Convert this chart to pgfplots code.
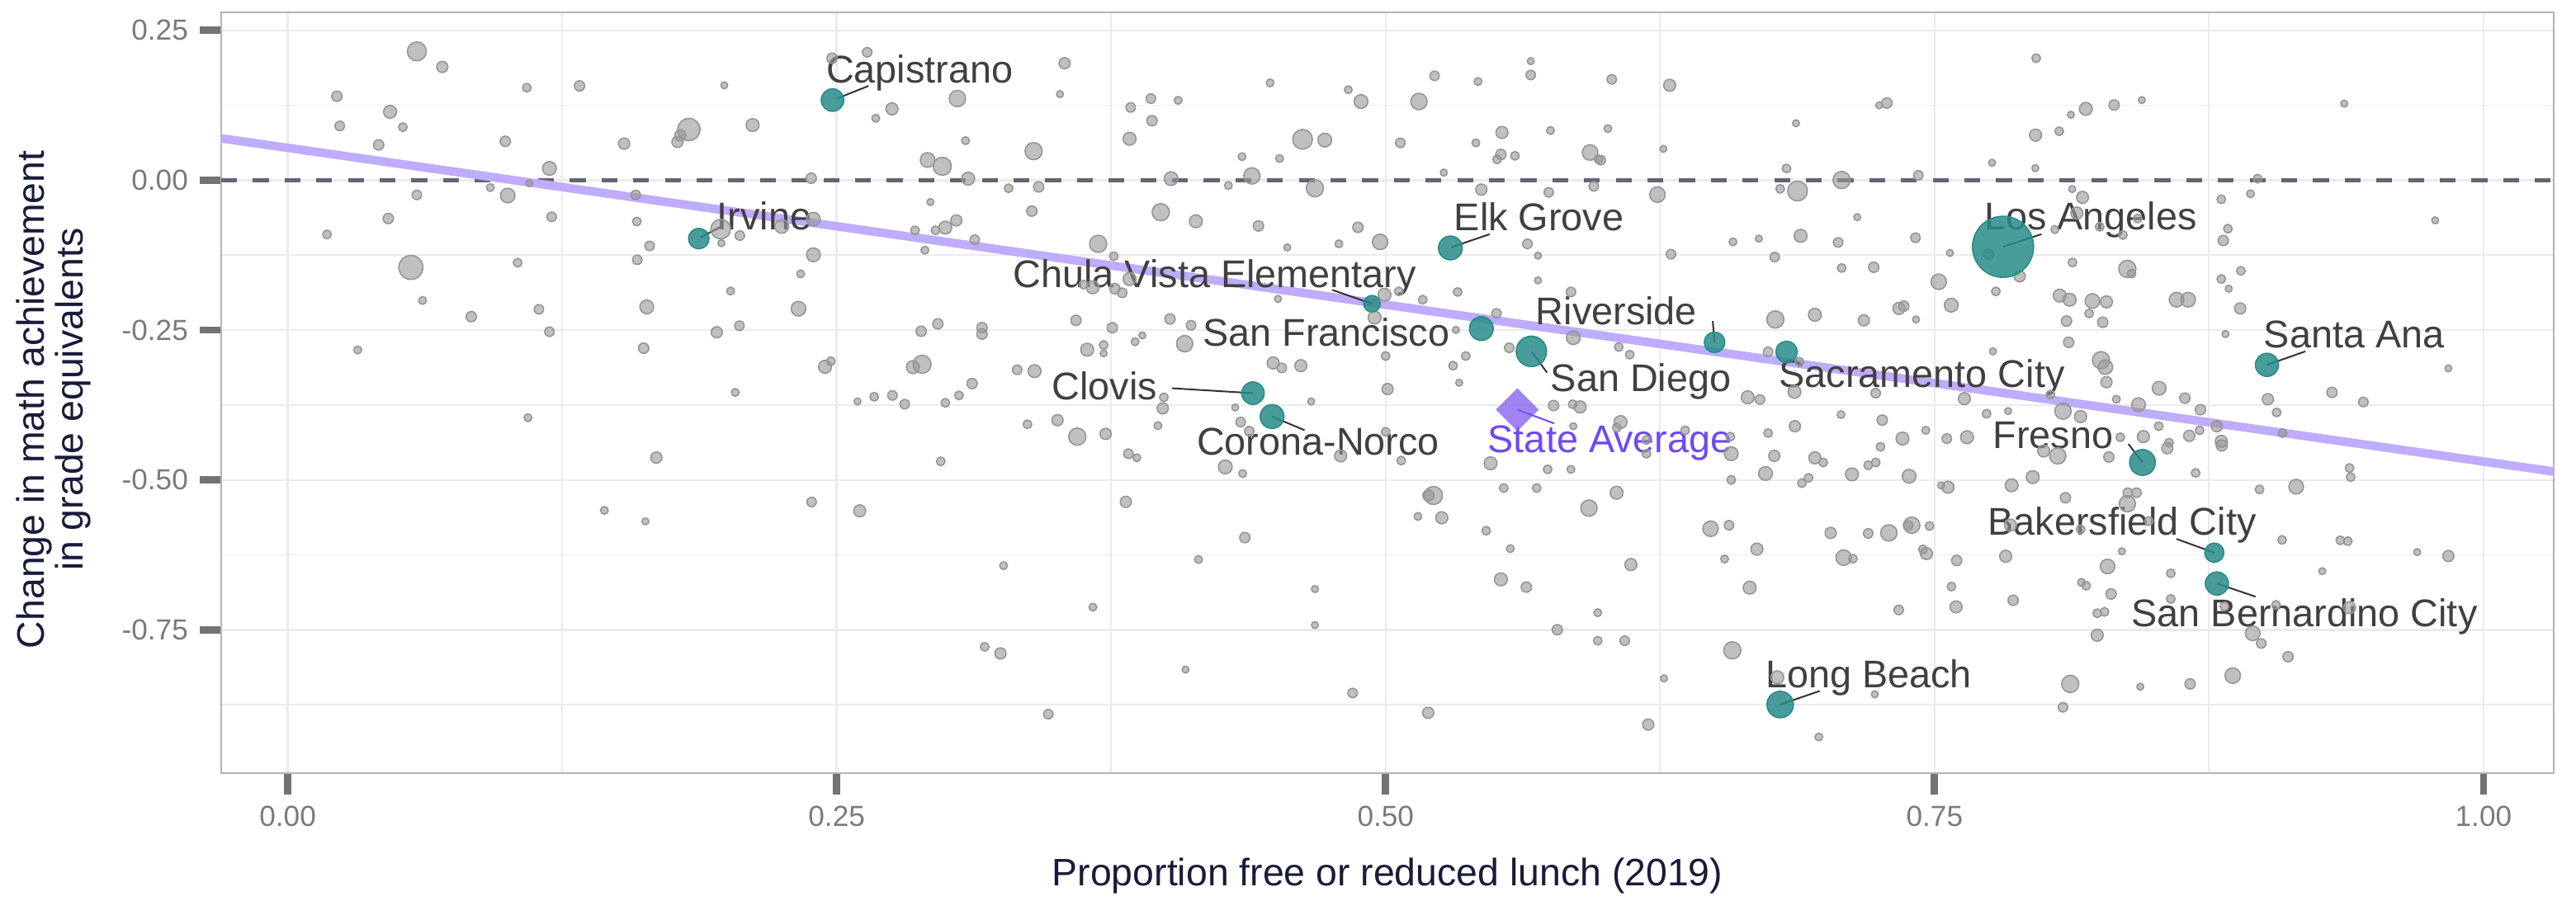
\documentclass[border=0pt]{standalone}
\usepackage{fontspec}
\setmainfont{Liberation Sans}
\usepackage{pgfplots}
\usepackage{pgfplotstable}
\pgfplotsset{compat=1.18}
\usetikzlibrary{calc}
\definecolor{ptgrey}{RGB}{150,150,150}
\definecolor{tealpt}{RGB}{40,140,136}
\definecolor{regline}{RGB}{190,172,252}
\definecolor{zeroline}{RGB}{100,100,118}
\definecolor{titlecol}{RGB}{26,26,58}
\definecolor{tickcol}{RGB}{122,122,122}
\definecolor{tickmark}{RGB}{115,115,115}
\definecolor{gridcol}{RGB}{235,235,235}
\definecolor{framecol}{RGB}{180,180,180}
\definecolor{lblcol}{RGB}{64,64,64}
\definecolor{statecol}{RGB}{112,72,245}
\definecolor{diamcol}{RGB}{125,85,240}
\definecolor{leadcol}{RGB}{50,50,50}
\tikzset{lbl/.style={font=\fontsize{11.7}{13}\selectfont, text=lblcol, inner sep=0pt, anchor=base}}

\pgfplotstableread{
x y r
0.0588 0.2149 2.2
0.0704 0.1890 1.3
0.1089 0.1544 1.0
0.1329 0.1573 1.2
0.1988 0.1583 0.8
0.0224 0.1401 1.2
0.0466 0.1141 1.5
0.0237 0.0905 1.1
0.0524 0.0885 1.0
0.0414 0.0590 1.2
0.0991 0.0649 1.2
0.1532 0.0610 1.3
0.1827 0.0846 2.6
0.1788 0.0748 1.3
0.1775 0.0640 1.3
0.2117 0.0920 1.5
0.1192 0.0197 1.6
0.2384 0.0034 1.2
0.0588 -0.0246 1.1
0.0923 -0.0123 0.9
0.1002 -0.0256 1.7
0.1100 -0.0049 0.8
0.1585 -0.0246 1.1
0.0458 -0.0639 1.2
0.1202 -0.0610 1.1
0.1590 -0.0688 1.0
0.0179 -0.0904 1.0
0.1972 -0.0816 2.3
0.2059 -0.0924 1.1
0.1975 -0.1050 0.8
0.2250 -0.0770 1.6
0.2394 -0.0650 1.6
0.1648 -0.1096 1.1
0.2394 -0.1244 1.6
0.0561 -0.1455 2.8
0.1047 -0.1376 1.0
0.1592 -0.1327 1.1
0.2336 -0.1563 0.9
0.2017 -0.1848 0.9
0.0614 -0.2006 0.9
0.1635 -0.2114 1.6
0.2326 -0.2143 1.7
0.1144 -0.2153 1.1
0.0836 -0.2276 1.2
0.1192 -0.2527 1.1
0.1954 -0.2537 1.3
0.2057 -0.2428 1.1
0.1621 -0.2802 1.2
0.0319 -0.2832 0.9
0.2447 -0.3112 1.5
0.2473 -0.3020 1.0
0.2038 -0.3540 0.9
0.1094 -0.3962 0.9
0.1679 -0.4627 1.3
0.1442 -0.5507 0.9
0.1629 -0.5691 0.8
0.2386 -0.5367 1.1
0.2639 0.2134 1.1
0.2479 0.2035 1.2
0.3538 0.1952 1.3
0.3050 0.1362 1.9
0.2752 0.1190 1.4
0.2678 0.1033 0.9
0.3517 0.1436 0.8
0.3839 0.1214 1.1
0.3931 0.1362 1.1
0.4055 0.1332 0.9
0.3936 0.0993 1.2
0.4474 0.1623 0.9
0.4830 0.1510 0.9
0.4888 0.1313 1.6
0.3087 0.0660 0.9
0.3397 0.0485 2.0
0.2914 0.0338 1.7
0.2981 0.0233 2.1
0.3099 0.0026 1.5
0.3283 -0.0134 1.0
0.3420 -0.0111 1.2
0.3834 0.0692 1.5
0.4023 0.0026 1.6
0.4346 0.0393 0.9
0.4391 0.0072 1.9
0.4517 0.0361 0.9
0.4622 0.0682 2.3
0.4723 0.0669 1.6
0.4284 -0.0088 0.9
0.4678 -0.0134 2.0
0.5067 0.0623 1.1
0.2927 -0.0364 0.8
0.3389 -0.0515 1.2
0.3045 -0.0670 1.3
0.2995 -0.0790 1.5
0.2950 -0.0836 1.0
0.2857 -0.0836 1.0
0.3129 -0.0992 1.1
0.2902 -0.1167 0.9
0.3976 -0.0533 2.0
0.4136 -0.0685 1.5
0.4421 -0.0763 1.2
0.4874 -0.0786 1.2
0.4787 -0.1061 0.9
0.4552 -0.1121 0.8
0.4975 -0.1029 1.8
0.3691 -0.1061 2.0
0.3762 -0.1268 1.0
0.3834 -0.1648 1.5
0.3624 -0.1740 1.0
0.3666 -0.1786 1.5
0.3767 -0.1809 1.2
0.3800 -0.1878 1.1
0.4510 -0.1979 0.8
0.4995 -0.1910 1.5
0.4950 -0.2290 1.5
0.5060 -0.1855 1.0
0.3590 -0.2337 1.2
0.3755 -0.2460 1.2
0.4018 -0.2314 1.2
0.4114 -0.2420 1.1
0.2961 -0.2396 1.2
0.2885 -0.2520 1.2
0.3162 -0.2460 1.2
0.3162 -0.2566 1.2
0.3892 -0.2589 0.8
0.3859 -0.2695 0.9
0.3716 -0.2749 1.0
0.3716 -0.2887 0.8
0.3641 -0.2827 1.5
0.4085 -0.2727 1.9
0.5000 -0.2933 1.0
0.2889 -0.3071 2.1
0.2847 -0.3117 1.5
0.3322 -0.3162 1.1
0.3401 -0.3185 1.5
0.3117 -0.3392 1.2
0.3057 -0.3590 1.0
0.2995 -0.3713 1.0
0.2810 -0.3736 1.1
0.2754 -0.3590 1.1
0.2671 -0.3612 1.0
0.2595 -0.3690 0.8
0.4488 -0.3048 1.4
0.4527 -0.3130 1.1
0.4614 -0.3094 1.4
0.5009 -0.3484 1.3
0.3990 -0.3621 1.0
0.3985 -0.3805 1.3
0.4315 -0.3791 0.8
0.4661 -0.3690 0.8
0.4340 -0.4034 1.1
0.4379 -0.4186 1.1
0.3506 -0.4002 1.3
0.3369 -0.4071 1.0
0.3963 -0.4094 0.9
0.3596 -0.4277 2.0
0.3725 -0.4231 1.3
0.5000 -0.4195 1.0
0.2974 -0.4690 1.0
0.3829 -0.4562 1.1
0.3867 -0.4630 0.9
0.4270 -0.4782 1.6
0.4349 -0.4892 0.9
0.4795 -0.4598 1.4
0.5071 -0.4676 1.0
0.2605 -0.5516 1.4
0.3817 -0.5365 1.3
0.4359 -0.5961 1.2
0.3260 -0.6429 0.9
0.4148 -0.6328 0.9
0.4678 -0.6820 0.8
0.3667 -0.7122 0.9
0.4678 -0.7420 0.8
0.3174 -0.7783 1.0
0.3246 -0.7893 1.3
0.4089 -0.8163 0.8
0.4850 -0.8553 1.1
0.3464 -0.8907 1.1
0.5152 0.1313 1.9
0.5223 0.1741 1.1
0.5421 0.1647 0.9
0.5661 0.1986 0.8
0.5661 0.1755 1.1
0.6030 0.1682 1.1
0.6294 0.1583 1.4
0.7283 0.1288 1.2
0.7248 0.1249 0.8
0.6869 0.0950 0.8
0.5530 0.0797 1.4
0.5411 0.0623 0.9
0.5525 0.0430 1.2
0.5508 0.0347 1.0
0.5589 0.0407 1.0
0.5751 0.0829 0.9
0.5931 0.0462 1.8
0.5980 0.0334 1.1
0.5970 0.0350 1.0
0.6012 0.0861 0.9
0.6265 0.0522 0.8
0.5265 0.0127 0.8
0.5436 -0.0157 1.3
0.5743 -0.0203 1.1
0.5948 -0.0102 1.1
0.6238 -0.0240 1.8
0.6826 0.0196 1.0
0.6797 -0.0143 1.0
0.6876 -0.0180 2.3
0.7077 0.0003 2.0
0.7426 0.0081 1.1
0.5646 -0.1061 1.1
0.5694 -0.1258 0.8
0.5694 -0.1671 0.8
0.5328 -0.1864 1.0
0.5169 -0.1993 1.0
0.6300 -0.1235 1.1
0.6582 -0.1029 0.9
0.6700 -0.0974 0.8
0.6890 -0.0928 1.5
0.6772 -0.1281 1.1
0.7061 -0.1038 1.1
0.7148 -0.0616 0.8
0.7413 -0.0960 1.1
0.7077 -0.1465 1.0
0.7223 -0.1451 1.2
0.7570 -0.1213 0.8
0.7519 -0.1694 1.8
0.7576 -0.2084 1.6
0.7338 -0.2139 1.4
0.7360 -0.2100 1.2
0.7416 -0.2323 0.8
0.7178 -0.2337 1.3
0.6955 -0.2245 1.5
0.6775 -0.2323 2.0
0.5844 -0.1864 1.1
0.5505 -0.2222 1.1
0.5320 -0.2497 0.8
0.5855 -0.2626 1.6
0.6062 -0.2782 1.0
0.6112 -0.2910 1.0
0.5563 -0.2795 1.1
0.5365 -0.2933 1.0
0.5307 -0.3094 1.0
0.5335 -0.3378 0.8
0.6742 -0.2864 1.1
0.6884 -0.3025 1.0
0.6649 -0.3621 1.5
0.6705 -0.3658 1.1
0.6862 -0.3530 1.5
0.7232 -0.3552 1.1
0.7636 -0.3644 1.4
0.7074 -0.3910 0.9
0.7262 -0.4002 1.2
0.7460 -0.4172 0.9
0.7354 -0.4310 1.5
0.7556 -0.4310 1.1
0.7648 -0.4287 1.5
0.6864 -0.4103 1.3
0.6742 -0.4218 1.0
0.5765 -0.3759 1.2
0.5852 -0.3736 1.0
0.5886 -0.3782 1.4
0.6070 -0.4034 1.5
0.5855 -0.4103 0.8
0.6053 -0.4126 1.0
0.6364 -0.4172 1.0
0.6570 -0.4277 1.0
0.6188 -0.4333 1.0
0.5478 -0.4722 1.5
0.5738 -0.4823 1.0
0.5844 -0.4823 0.9
0.6188 -0.4562 1.0
0.6574 -0.4562 1.6
0.6770 -0.4598 1.3
0.6955 -0.4631 1.4
0.6993 -0.4708 1.0
0.7124 -0.4906 1.5
0.7198 -0.4754 1.0
0.7232 -0.4708 1.0
0.7254 -0.4447 1.0
0.6730 -0.4892 1.6
0.6574 -0.4998 1.0
0.6896 -0.5053 1.0
0.6926 -0.4965 1.0
0.7384 -0.4938 1.6
0.7561 -0.5121 1.4
0.7530 -0.5090 0.8
0.5218 -0.5259 2.1
0.5195 -0.5259 1.3
0.5147 -0.5608 0.9
0.5256 -0.5631 1.4
0.5538 -0.5135 1.0
0.5688 -0.5135 1.0
0.6052 -0.5213 1.5
0.5926 -0.5470 1.9
0.5458 -0.5846 1.0
0.5568 -0.6145 0.9
0.6117 -0.6411 1.4
0.5525 -0.6658 1.5
0.5641 -0.6787 1.2
0.5966 -0.7214 0.9
0.5782 -0.7498 1.2
0.5966 -0.7682 1.0
0.6089 -0.7682 1.1
0.6480 -0.5814 1.8
0.6564 -0.5755 1.1
0.6691 -0.6154 1.4
0.6544 -0.6319 0.9
0.6658 -0.6796 1.5
0.7027 -0.5883 1.3
0.7086 -0.6296 1.8
0.7128 -0.6314 1.0
0.7198 -0.5892 1.1
0.7292 -0.5883 1.9
0.7396 -0.5755 1.9
0.7380 -0.5760 1.1
0.7477 -0.5768 1.0
0.7447 -0.6158 1.0
0.7463 -0.6227 1.4
0.7601 -0.6342 1.2
0.7577 -0.6778 1.0
0.7598 -0.7117 1.4
0.7337 -0.7168 1.1
0.6579 -0.7842 2.0
0.6268 -0.8310 0.8
0.6784 -0.8292 1.5
0.7228 -0.8576 0.8
0.5194 -0.8884 1.3
0.6196 -0.9081 1.3
0.6973 -0.9287 0.9
0.7963 0.2036 1.0
0.8189 0.1190 1.5
0.8318 0.1254 1.2
0.8444 0.1337 0.8
0.8121 0.1092 0.8
0.9366 0.1278 0.8
0.7960 0.0751 1.4
0.8068 0.0816 1.0
0.7762 0.0292 0.8
0.7959 0.0201 0.8
0.8127 -0.0148 0.8
0.8174 -0.0286 1.4
0.8971 0.0026 1.0
0.8939 -0.0226 0.9
0.8806 -0.0318 1.0
0.8836 -0.0809 1.0
0.8815 -0.1006 1.2
0.9780 -0.0670 0.8
0.8048 -0.0823 0.9
0.8252 -0.0777 1.0
0.8148 -0.0547 1.4
0.8425 -0.0639 1.0
0.8358 -0.0914 1.0
0.7746 -0.1235 1.2
0.7888 -0.1602 1.3
0.7779 -0.1855 1.0
0.8128 -0.1373 1.0
0.8378 -0.1479 2.0
0.8397 -0.1557 1.0
0.8070 -0.1924 1.5
0.8115 -0.1993 1.5
0.8219 -0.2015 1.7
0.8283 -0.2029 1.4
0.8204 -0.2222 1.0
0.8101 -0.2350 1.2
0.8266 -0.2369 1.2
0.8602 -0.1993 1.7
0.8655 -0.1993 1.7
0.8806 -0.1648 1.0
0.8840 -0.1809 0.8
0.8895 -0.1511 1.0
0.8892 -0.2139 1.3
0.8825 -0.2566 0.8
0.8111 -0.2704 1.2
0.7766 -0.2855 0.8
0.8258 -0.3002 2.0
0.8278 -0.3117 1.7
0.8283 -0.3369 1.3
0.8028 -0.3575 1.0
0.8523 -0.3470 1.6
0.8640 -0.3635 1.2
0.8711 -0.3828 1.2
0.8328 -0.3653 0.9
0.8429 -0.3745 1.6
0.9018 -0.3653 1.3
0.9058 -0.3874 1.0
0.9085 -0.4218 1.0
0.9310 -0.3540 1.2
0.9453 -0.3699 1.1
0.9840 -0.3139 0.8
0.8085 -0.3851 1.9
0.8165 -0.3943 1.4
0.7737 -0.3896 1.0
0.7835 -0.3851 0.8
0.8521 -0.4103 1.0
0.8660 -0.4264 1.3
0.8707 -0.4172 1.0
0.8806 -0.4356 1.4
0.8786 -0.4103 1.3
0.8568 -0.4378 1.0
0.8451 -0.4277 1.4
0.8346 -0.4287 1.0
0.8061 -0.4598 1.9
0.7997 -0.4516 1.4
0.8294 -0.4617 1.2
0.8560 -0.4470 1.3
0.8808 -0.4424 1.3
0.8689 -0.4883 1.0
0.9390 -0.4800 1.0
0.9395 -0.4952 1.0
0.9147 -0.5112 1.7
0.8980 -0.5158 1.0
0.7851 -0.5089 1.5
0.7947 -0.4952 1.5
0.8096 -0.5296 1.2
0.8380 -0.5213 1.1
0.8420 -0.5213 1.1
0.8378 -0.5397 1.9
0.8476 -0.5686 1.0
0.8165 -0.5823 1.0
0.7846 -0.5755 1.4
0.7824 -0.6273 1.4
0.8353 -0.6190 0.8
0.8288 -0.6443 1.7
0.8576 -0.6557 1.0
0.8169 -0.6709 0.9
0.8190 -0.6764 1.0
0.8304 -0.6902 1.2
0.7858 -0.7007 1.2
0.8576 -0.6984 1.0
0.8241 -0.7223 1.0
0.8274 -0.7200 1.0
0.9083 -0.6000 1.0
0.9348 -0.6007 1.0
0.9382 -0.6021 1.0
0.9266 -0.6521 0.8
0.9698 -0.6204 0.8
0.9840 -0.6268 1.3
0.8820 -0.7108 1.0
0.9055 -0.7085 1.0
0.9390 -0.7130 1.4
0.8949 -0.7558 1.7
0.8988 -0.7727 1.1
0.9110 -0.7948 1.2
0.8241 -0.7590 1.4
0.8858 -0.8264 1.8
0.8664 -0.8402 1.2
0.8437 -0.8448 0.8
0.8118 -0.8402 2.0
0.8085 -0.8792 1.1
}\greypts

\pgfplotstableread{
x y r
0.2481 0.1337 3.4
0.1872 -0.0973 3.1
0.5295 -0.1130 3.6
0.4938 -0.2060 2.5
0.5436 -0.2474 3.6
0.5664 -0.2855 4.6
0.6498 -0.2704 3.1
0.6826 -0.2864 3.25
0.4396 -0.3552 3.4
0.4483 -0.3942 3.6
0.7812 -0.1111 9.25
0.9014 -0.3080 3.5
0.8447 -0.4708 3.9
0.8774 -0.6213 2.9
0.8786 -0.6727 3.5
0.6797 -0.8746 4.0
}\tealpts

\begin{document}
\begin{tikzpicture}
\begin{axis}[
  name=ax,
  scale only axis,
  width=706.5pt, height=230.5pt,
  xmin=-0.0303, xmax=1.032, ymin=-0.989, ymax=0.280,
  xtick={0,0.25,0.5,0.75,1},
  xticklabels={0.00,0.25,0.50,0.75,1.00},
  ytick={-0.75,-0.5,-0.25,0,0.25},
  yticklabels={-0.75,-0.50,-0.25,0.00,0.25},
  minor xtick={0.125,0.375,0.625,0.875},
  minor ytick={-0.875,-0.625,-0.375,-0.125,0.125},
  grid=both,
  major grid style={gridcol, line width=0.6pt},
  minor grid style={gridcol, line width=0.45pt},
  axis line style={framecol, line width=0.5pt},
  tick align=outside,
  xtick pos=bottom, ytick pos=left,
  major tick length=6.5pt, minor tick length=0pt,
  major tick style={tickmark, line width=2.2pt},
  tick label style={font=\fontsize{8.8}{10}\selectfont, text=tickcol},
  xlabel={Proportion free or reduced lunch (2019)},
  ylabel={Change in math achievement\\in grade equivalents},
  xlabel style={at={(rel axis cs:0.5,0)}, anchor=base, yshift=-34pt,
    font=\fontsize{11.6}{13}\selectfont, text=titlecol},
  ylabel style={at={(rel axis cs:-0.0718,0.491)}, anchor=center, align=center,
    font=\fontsize{11.6}{10.6}\selectfont, text=titlecol},
]
% zero reference line
\addplot[zeroline, line width=1.1pt, dash pattern=on 4.8pt off 4.8pt] coordinates {(-0.0303,0) (1.032,0)};
% regression line
\addplot[regline, line width=2.6pt] coordinates {(-0.0303,0.0698) (1.032,-0.486)};
% grey districts
\addplot[ptgrey, scatter, only marks, mark=*,
  mark options={draw=none, fill=ptgrey, fill opacity=0.6},
  scatter/use mapped color={draw=none, fill=ptgrey, fill opacity=0.6},
  visualization depends on={1.3*\thisrow{r} \as \rr},
  scatter/@pre marker code/.append style={/tikz/mark size=\rr pt, /tikz/draw opacity=0}]
  table[x=x, y=y] {\greypts};
% highlighted districts
\addplot[tealpt, scatter, only marks, mark=*,
  mark options={draw=none, fill=tealpt, fill opacity=0.85},
  scatter/use mapped color={draw=none, fill=tealpt, fill opacity=0.85},
  visualization depends on={\thisrow{r} \as \rr},
  scatter/@pre marker code/.append style={/tikz/mark size=\rr pt, /tikz/draw opacity=0}]
  table[x=x, y=y] {\tealpts};
% state average
\addplot[diamcol, only marks, mark=square*, mark size=4.6pt,
  mark options={rotate=45, draw opacity=0, fill=diamcol, fill opacity=0.72}]
  coordinates {(0.560,-0.3828)};
% leader lines
\addplot[leadcol, line width=0.5pt] coordinates {(0.2500,0.1360) (0.2645,0.1573)};
\addplot[leadcol, line width=0.5pt] coordinates {(0.1880,-0.0950) (0.1972,-0.0777)};
\addplot[leadcol, line width=0.5pt] coordinates {(0.5298,-0.1120) (0.5474,-0.0900)};
\addplot[leadcol, line width=0.5pt] coordinates {(0.4938,-0.2060) (0.4757,-0.1830)};
\addplot[leadcol, line width=0.5pt] coordinates {(0.5664,-0.2855) (0.5735,-0.3208)};
\addplot[leadcol, line width=0.5pt] coordinates {(0.6498,-0.2704) (0.6490,-0.2350)};
\addplot[leadcol, line width=0.5pt] coordinates {(0.4396,-0.3552) (0.4027,-0.3470)};
\addplot[leadcol, line width=0.5pt] coordinates {(0.4483,-0.3942) (0.4631,-0.4170)};
\addplot[leadcol, line width=0.5pt] coordinates {(0.7812,-0.1111) (0.7987,-0.0900)};
\addplot[leadcol, line width=0.5pt] coordinates {(0.9014,-0.3080) (0.9189,-0.2855)};
\addplot[leadcol, line width=0.5pt] coordinates {(0.8447,-0.4708) (0.8383,-0.4400)};
\addplot[leadcol, line width=0.5pt] coordinates {(0.8774,-0.6213) (0.8602,-0.5984)};
\addplot[leadcol, line width=0.5pt] coordinates {(0.8786,-0.6727) (0.8962,-0.6947)};
\addplot[leadcol, line width=0.5pt] coordinates {(0.6797,-0.8746) (0.6977,-0.8520)};
\addplot[statecol, line width=0.5pt] coordinates {(0.5600,-0.3828) (0.5768,-0.4057)};
% labels
\node[lbl] at (axis cs:0.2878,0.1618) {Capistrano};
\node[lbl] at (axis cs:0.2170,-0.0826) {Irvine};
\node[lbl] at (axis cs:0.5699,-0.0845) {Elk Grove};
\node[lbl] at (axis cs:0.8211,-0.0823) {Los Angeles};
\node[lbl] at (axis cs:0.4222,-0.1786) {Chula Vista Elementary};
\node[lbl] at (axis cs:0.6051,-0.2405) {Riverside};
\node[lbl] at (axis cs:0.4730,-0.2772) {San Francisco};
\node[lbl] at (axis cs:0.9411,-0.2795) {Santa Ana};
\node[lbl] at (axis cs:0.6163,-0.3530) {San Diego};
\node[lbl] at (axis cs:0.7443,-0.3450) {Sacramento City};
\node[lbl] at (axis cs:0.3720,-0.3667) {Clovis};
\node[lbl] at (axis cs:0.4693,-0.4590) {Corona-Norco};
\node[lbl, text=statecol] at (axis cs:0.6022,-0.4539) {State Average};
\node[lbl] at (axis cs:0.8040,-0.4470) {Fresno};
\node[lbl] at (axis cs:0.8354,-0.5915) {Bakersfield City};
\node[lbl] at (axis cs:0.9185,-0.7452) {San Bernardino City};
\node[lbl] at (axis cs:0.7200,-0.8462) {Long Beach};
\end{axis}
\pgfresetboundingbox
\path[use as bounding box] ($(ax.south west)+(-67pt,-38.5pt)$) rectangle ($(ax.north east)+(6.75pt,3.75pt)$);
\end{tikzpicture}
\end{document}
